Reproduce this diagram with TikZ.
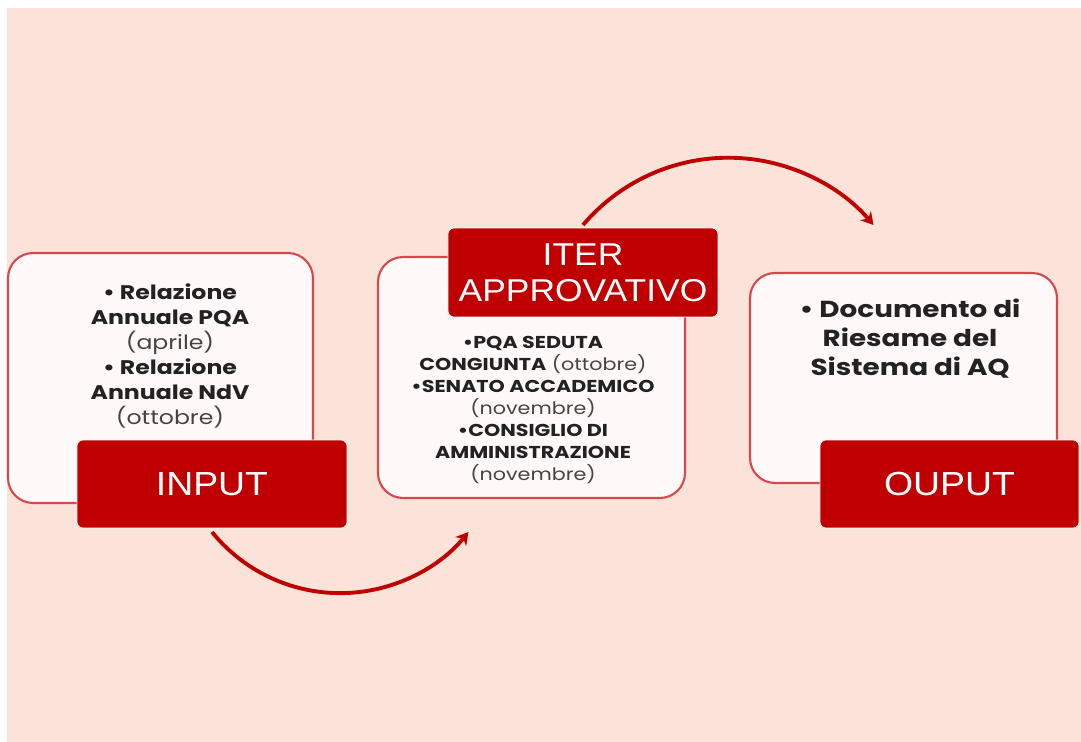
\documentclass[tikz,border=0pt]{standalone}
\usepackage{fontspec}
\setmainfont{Poppins}[FakeStretch=1.2]
\newfontfamily\labfont{Liberation Sans}[FakeStretch=1.12]
\usetikzlibrary{arrows.meta}
\definecolor{bgpeach}{HTML}{FBE3D9}
\definecolor{darkred}{HTML}{C00000}
\definecolor{edgered}{HTML}{D9474A}
\definecolor{boxwhite}{HTML}{FFFAF9}
\definecolor{softblack}{HTML}{222222}
\definecolor{greytext}{HTML}{444444}
\newcommand{\paren}[1]{\textcolor{greytext}{#1}}
\tikzset{
  whitebox/.style={draw=edgered, line width=1.2pt, fill=boxwhite, rounded corners=0.5cm, inner sep=0pt},
  redbox/.style={fill=darkred, draw=boxwhite, line width=0.4pt, rounded corners=0.12cm, inner sep=0pt, text=white, align=center},
  bodytext/.style={align=center, text=softblack, inner sep=0pt},
  flowarrow/.style={draw=darkred, line width=2.2pt, -{Stealth[length=7pt,width=8pt]}}
}
\begin{document}
\begin{tikzpicture}[x=0.02cm, y=-0.02cm]
\useasboundingbox[fill=white] (0,0) rectangle (1081,742);
\fill[bgpeach] (7,8) rectangle (1081,742);

% INPUT
\node[whitebox, minimum width=6.1cm, minimum height=5.0cm] (inw) at (160.5,378) {};
\node[bodytext, font=\fontsize{11.2}{14.2}\selectfont] (intext) at (170,356)
  {\textbf{• Relazione}\\ \textbf{Annuale PQA}\\ \paren{(aprile)}\\ \textbf{• Relazione}\\ \textbf{Annuale NdV}\\ \paren{(ottobre)}};
\node[redbox, minimum width=5.4cm, minimum height=1.76cm, font=\labfont\fontsize{19}{22}\selectfont] (inr) at (212,484) {INPUT};

% ITER
\node[whitebox, minimum width=6.14cm, minimum height=4.82cm] (itw) at (531.5,377.5) {};
\node[redbox, minimum width=5.4cm, minimum height=1.78cm, font=\labfont\fontsize{18}{20.5}\selectfont] (itr) at (583,272.5) {ITER\\APPROVATIVO};
\node[bodytext, font=\fontsize{9.8}{12.6}\selectfont] (ittext) at (533,410)
  {\textbf{•PQA SEDUTA}\\ \textbf{CONGIUNTA} \paren{(ottobre)}\\ \textbf{•SENATO ACCADEMICO}\\ \paren{(novembre)}\\ \textbf{•CONSIGLIO DI}\\ \textbf{AMMINISTRAZIONE}\\ \paren{(novembre)}};

% OUTPUT
\node[whitebox, minimum width=6.14cm, minimum height=4.2cm] (outw) at (903.5,378) {};
\node[bodytext, font=\fontsize{13.2}{16.5}\selectfont] (outtext) at (910,339)
  {\textbf{• Documento di}\\ \textbf{Riesame del}\\ \textbf{Sistema di AQ}};
\node[redbox, minimum width=5.18cm, minimum height=1.76cm, font=\labfont\fontsize{19}{22}\selectfont] (outr) at (949.5,484) {OUPUT};

% arrows
\coordinate (a1s) at (212,532);
\coordinate (a2s) at (583,225);
\draw[flowarrow] (a1s) arc[start angle=219, end angle=321, radius=3.3cm];
\draw[flowarrow] (a2s) arc[start angle=139.7, end angle=40.3, radius=3.81cm];
\end{tikzpicture}
\end{document}
